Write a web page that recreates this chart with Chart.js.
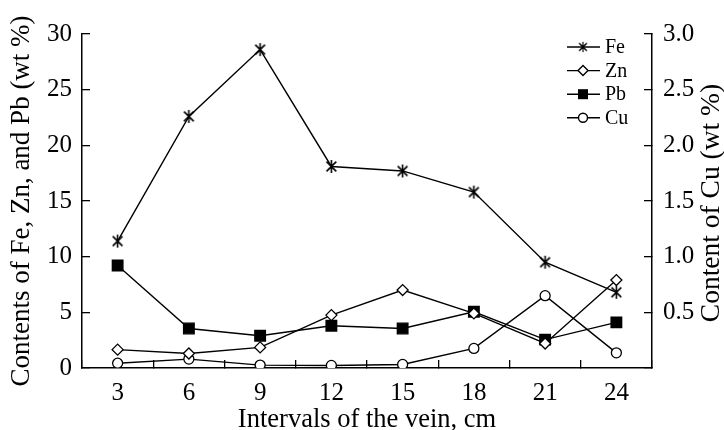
<!DOCTYPE html>
<html lang="en">
<head>
<meta charset="UTF-8">
<title>Metal contents along the vein</title>
<script src="https://cdn.jsdelivr.net/npm/chart.js"></script>
<style>
  html, body { margin: 0; padding: 0; background: #fff; }
</style>
</head>
<body>
<canvas id="veinChart" width="724" height="430"></canvas>
<script>
// interval positions along the vein (cm)
const intervals = ['3', '6', '9', '12', '15', '18', '21', '24'];
// wt % on the left axis
const fe = [11.4, 22.6, 28.6, 18.1, 17.7, 15.8, 9.5, 6.8];
const zn = [1.65, 1.3, 1.85, 4.75, 7.0, 4.9, 2.2, 7.9];
const pb = [9.2, 3.55, 2.9, 3.8, 3.55, 5.05, 2.55, 4.1];
// wt % on the right axis
const cu = [0.043, 0.08, 0.026, 0.023, 0.032, 0.176, 0.65, 0.136];

const serif = 'Liberation Serif';

// six-armed asterisk marker for Fe
function asterisk(size) {
    const c = document.createElement('canvas');
    c.width = size; c.height = size;
    const g = c.getContext('2d');
    g.strokeStyle = '#000';
    g.lineWidth = 1.6;
    const m = size / 2, r = size / 2 - 1, d = r * 0.75;
    g.beginPath();
    g.moveTo(m - d, m - d); g.lineTo(m + d, m + d);
    g.moveTo(m + d, m - d); g.lineTo(m - d, m + d);
    g.moveTo(m, m - r); g.lineTo(m, m + r);
    g.stroke();
    return c;
}
const feMark = asterisk(15);

function series(label, data, style, fill, radius, axis) {
    return {
        label: label,
        data: data,
        yAxisID: axis,
        borderColor: '#000',
        borderWidth: 1.4,
        pointStyle: style,
        pointRadius: radius,
        pointBackgroundColor: fill,
        pointBorderColor: '#000',
        pointBorderWidth: 1.3,
        tension: 0
    };
}

// legend drawn inside the plot, line + marker + name
const innerLegend = {
    id: 'innerLegend',
    afterDraw(chart) {
        const ctx = chart.ctx;
        const x0 = 567, x1 = 600, cx = 583, yTop = 47, dy = 23.6;
        ctx.save();
        ctx.strokeStyle = '#000';
        ctx.lineWidth = 1.4;
        ctx.font = '20px "' + serif + '"';
        ctx.textBaseline = 'middle';
        ctx.fillStyle = '#000';
        chart.data.datasets.forEach((ds, i) => {
            const y = yTop + i * dy;
            ctx.beginPath();
            ctx.moveTo(x0, y); ctx.lineTo(x1, y);
            ctx.stroke();
            if (ds.label === 'Fe') {
                ctx.drawImage(feMark, cx - 6, y - 6, 12, 12);
            } else if (ds.label === 'Zn') {
                ctx.beginPath();
                ctx.moveTo(cx, y - 5); ctx.lineTo(cx + 5, y); ctx.lineTo(cx, y + 5); ctx.lineTo(cx - 5, y);
                ctx.closePath();
                ctx.fillStyle = '#fff'; ctx.fill(); ctx.stroke();
            } else if (ds.label === 'Pb') {
                ctx.fillStyle = '#000';
                ctx.fillRect(cx - 5, y - 5, 10, 10);
            } else {
                ctx.beginPath();
                ctx.arc(cx, y, 4.5, 0, Math.PI * 2);
                ctx.fillStyle = '#fff'; ctx.fill(); ctx.stroke();
            }
            ctx.fillStyle = '#000';
            ctx.fillText(ds.label, 605, y + 1);
        });
        ctx.restore();
    }
};

// right axis title reads bottom-to-top like the left one
const cuTitle = {
    id: 'cuTitle',
    afterDraw(chart) {
        const ctx = chart.ctx;
        ctx.save();
        ctx.translate(712, 203);
        ctx.rotate(-Math.PI / 2);
        ctx.font = '27.5px "' + serif + '"';
        ctx.fillStyle = '#000';
        ctx.textAlign = 'center';
        ctx.textBaseline = 'middle';
        ctx.fillText('Content of Cu (wt %)', 0, 0);
        ctx.restore();
    }
};

const tickFont = { family: serif, size: 25 };

new Chart(document.getElementById('veinChart'), {
    type: 'line',
    data: {
        labels: intervals,
        datasets: [
            series('Fe', fe, feMark, '#000', 7, 'y'),
            series('Zn', zn, 'rectRot', '#fff', 5.5, 'y'),
            series('Pb', pb, 'rect', '#000', 7.5, 'y'),
            series('Cu', cu, 'circle', '#fff', 5, 'yCu')
        ]
    },
    options: {
        responsive: false,
        animation: false,
        layout: { padding: { top: 24, left: 0, right: 0, bottom: 0 } },
        plugins: {
            legend: { display: false },
            tooltip: { enabled: false }
        },
        scales: {
            x: {
                offset: true,
                grid: { offset: true, drawOnChartArea: false, tickLength: -8, color: '#000', lineWidth: 1.3 },
                border: { color: '#000', width: 1.5 },
                ticks: { color: '#000', font: tickFont, padding: 18, maxRotation: 0 },
                title: { display: true, text: 'Intervals of the vein, cm', color: '#000',
                         font: { family: serif, size: 26.5 }, padding: { top: 0, bottom: -6 } },
                afterFit(s) { s.height = 62; }
            },
            y: {
                position: 'left',
                min: 0, max: 30,
                grid: { drawOnChartArea: false, tickLength: -8, color: '#000', lineWidth: 1.3 },
                border: { color: '#000', width: 1.5 },
                ticks: { stepSize: 5, color: '#000', font: tickFont, padding: 18 },
                title: { display: true, text: 'Contents of Fe, Zn, and Pb (wt %)', color: '#000',
                         font: { family: serif, size: 27 }, padding: { top: 6, bottom: 0 } },
                afterFit(s) { s.width = 82; }
            },
            yCu: {
                position: 'right',
                min: 0, max: 3,
                grid: { drawOnChartArea: false, tickLength: -8, color: '#000', lineWidth: 1.3 },
                border: { color: '#000', width: 1.5 },
                ticks: {
                    stepSize: 0.5, color: '#000', font: tickFont, padding: 19,
                    callback: v => v === 0 ? '' : v.toFixed(1)
                },
                afterFit(s) { s.width = 72; }
            }
        }
    },
    plugins: [innerLegend, cuTitle]
});
</script>
</body>
</html>
